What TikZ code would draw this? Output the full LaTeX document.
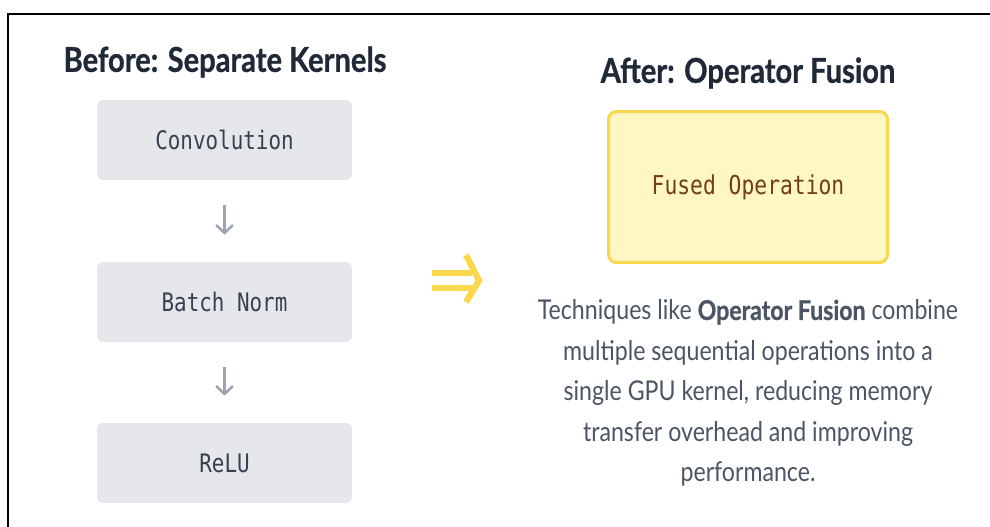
\documentclass[tikz,border=0pt]{standalone}
\usepackage{fontspec}
\setmainfont{Lato}
\newfontfamily\headfont[FakeStretch=0.85, BoldFeatures={FakeBold=0.8}]{Lato}
\newfontfamily\codefont[FakeStretch=0.82]{DejaVu Sans Mono}
\usetikzlibrary{arrows.meta}
\usepackage{xcolor}
\definecolor{inkdark}{HTML}{1F2937}
\definecolor{kernelgray}{HTML}{E5E7EB}
\definecolor{codegray}{HTML}{374151}
\definecolor{flowgray}{HTML}{9CA3AF}
\definecolor{fusedfill}{HTML}{FEF7C3}
\definecolor{fusededge}{HTML}{FAD84E}
\definecolor{fusedtext}{HTML}{713F12}
\definecolor{bodygray}{HTML}{4B5563}

\begin{document}
\begin{tikzpicture}[x=0.02cm, y=-0.02cm,
    heading/.style={text=inkdark, font=\headfont\bfseries\fontsize{19.5}{23}\selectfont},
    kernel/.style={fill=kernelgray, rounded corners=3.4pt, minimum width=5.1cm, minimum height=1.6cm,
        text=codegray, font=\codefont\fontsize{14.5}{17}\selectfont},
    flow/.style={-{Straight Barb[length=4.5pt,width=9.5pt]}, flowgray, line width=1.4pt}]
    \useasboundingbox (0,0) rectangle (990,527);

    % Frame (cropped)
    \draw[line width=1.2pt] (990,14) -- (8,14) -- (8,527);

    % Before: separate kernels
    \node[heading] (beforetitle) at (225,62) {Before: Separate Kernels};
    \node[kernel] (conv) at (224.5,140) {Convolution};
    \node[kernel] (bnorm) at (224.5,302) {Batch Norm};
    \node[kernel] (relu) at (224.5,463) {ReLU};
    \draw[flow, shorten <=25*0.02cm, shorten >=27*0.02cm] (conv) -- (bnorm);
    \draw[flow, shorten <=25*0.02cm, shorten >=27*0.02cm] (bnorm) -- (relu);

    % Big arrow between the two
    \draw[fusededge, line width=3.6pt] (432,273) -- (472,273);
    \draw[fusededge, line width=3.6pt] (432,288) -- (472,288);
    \draw[fusededge, line width=3.6pt] (466,255) -- (479,280.5) -- (466,302);

    % After: operator fusion
    \node[heading] (aftertitle) at (748,73) {After: Operator Fusion};
    \node[draw=fusededge, fill=fusedfill, line width=1.7pt, rounded corners=4.5pt,
        minimum width=5.58cm, minimum height=3.02cm, text=fusedtext,
        font=\codefont\fontsize{14.8}{17}\selectfont] (fused) at (748,187) {Fused Operation};
    \node[text=bodygray, align=center, font=\headfont\fontsize{15.5}{23}\selectfont] (note) at (748,393)
        {Techniques like \textbf{Operator Fusion} combine\\multiple sequential operations into a\\single GPU kernel, reducing memory\\transfer overhead and improving\\performance.};
\end{tikzpicture}
\end{document}
